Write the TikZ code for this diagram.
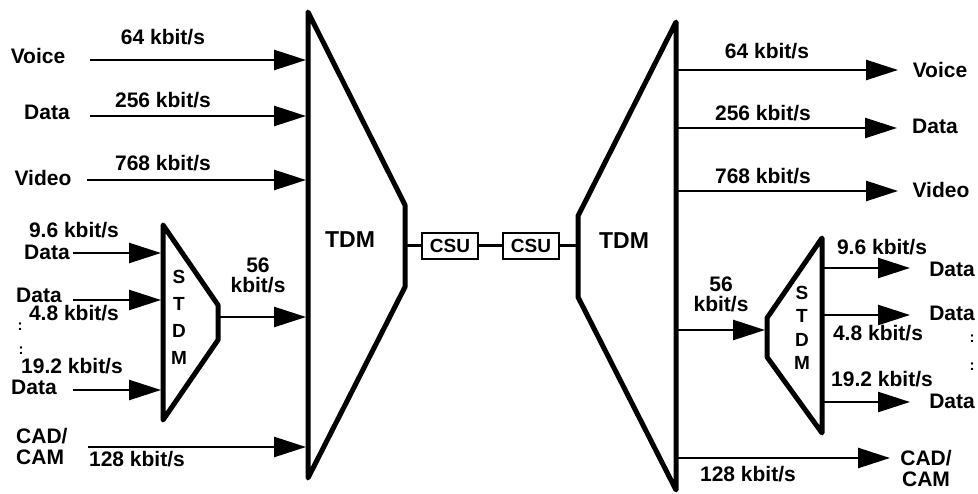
\documentclass[tikz,border=0pt]{standalone}
\usepackage{fontspec}
\setmainfont{Liberation Sans}
\usetikzlibrary{arrows.meta, positioning}

\begin{document}
\begin{tikzpicture}[x=1pt, y=-1pt,
    lbl/.style={font=\fontsize{21}{23}\selectfont\bfseries, inner sep=0pt},
    big/.style={font=\fontsize{23}{25}\selectfont\bfseries, inner sep=0pt},
    dots/.style={font=\fontsize{15}{16}\selectfont\bfseries, inner sep=0pt},
    mux/.style={line width=5pt, line join=round},
    flow/.style={-{Triangle[length=32pt, width=20pt]}, line width=2.6pt},
    link/.style={line width=3pt},
    csu/.style={draw, line width=2pt, minimum width=56pt, minimum height=26pt,
                inner sep=1pt, font=\fontsize{19}{20}\selectfont\bfseries}]
  \useasboundingbox (0,0) rectangle (978,494);

  % multiplexers
  \draw[mux] (308,12) -- (405,205) -- (405,287) -- (308,478) -- cycle;
  \draw[mux] (676,22) -- (578,216) -- (578,297) -- (676,490) -- cycle;
  \draw[mux] (163,225) -- (218,305) -- (218,340) -- (163,420) -- cycle;
  \draw[mux] (822,238) -- (767,318) -- (767,357) -- (822,433) -- cycle;
  \node[big] (tdmA) at (350,240) {TDM};
  \node[big] (tdmB) at (624,241) {TDM};
  \node[lbl, align=center, font=\fontsize{19}{27}\selectfont\bfseries]
       (stdmA) at (179,317) {S\\T\\D\\M};
  \node[lbl, align=center, font=\fontsize{19}{23.5}\selectfont\bfseries]
       (stdmB) at (802,328) {S\\T\\D\\M};

  % link between the two TDMs
  \coordinate (portA) at (405,246);
  \coordinate (portB) at (578,246);
  \node[csu] (csuA) at (450,246) {CSU};
  \node[csu] (csuB) at (531,246) {CSU};
  \draw[link] (portA) -- (csuA) -- (csuB) -- (portB);

  % sending side
  \node[lbl] (voiceA) at (38,56) {Voice};
  \node[lbl] (voiceArate) at (163,37) {64 kbit/s};
  \node[lbl] (dataA) at (47,112) {Data};
  \node[lbl] (dataArate) at (163,100) {256 kbit/s};
  \node[lbl] (videoA) at (43,178) {Video};
  \node[lbl] (videoArate) at (163,163) {768 kbit/s};
  \coordinate (voiceAin) at (90,60);   \coordinate (voiceAout) at (306,60);
  \coordinate (dataAin) at (90,116);   \coordinate (dataAout) at (306,116);
  \coordinate (videoAin) at (87,180);  \coordinate (videoAout) at (306,180);
  \draw[flow] (voiceAin) -- (voiceAout);
  \draw[flow] (dataAin) -- (dataAout);
  \draw[flow] (videoAin) -- (videoAout);

  \node[lbl] (lowArate) at (74,230) {9.6 kbit/s};
  \node[lbl] (lowA) at (47,252) {Data};
  \node[lbl] (midA) at (39,295) {Data};
  \node[lbl] (midArate) at (74,313) {4.8 kbit/s};
  \node[dots] (dotsA1) at (20,327) {:};
  \node[dots] (dotsA2) at (21,351) {:};
  \node[lbl] (highArate) at (72,366) {19.2 kbit/s};
  \node[lbl] (highA) at (34,387) {Data};
  \coordinate (lowAin) at (73,253);    \coordinate (lowAout) at (161,253);
  \coordinate (midAin) at (73,300);    \coordinate (midAout) at (161,300);
  \coordinate (highAin) at (73,390);   \coordinate (highAout) at (161,390);
  \draw[flow] (lowAin) -- (lowAout);
  \draw[flow] (midAin) -- (midAout);
  \draw[flow] (highAin) -- (highAout);

  \node[lbl, align=center] (trunkArate) at (258,275) {56\\[-3pt]kbit/s};
  \coordinate (trunkAin) at (218,317); \coordinate (trunkAout) at (306,317);
  \draw[flow] (trunkAin) -- (trunkAout);

  \node[lbl, align=left, anchor=west] (cadA) at (16,446) {CAD/\\[-2pt]CAM};
  \node[lbl] (cadArate) at (137,459) {128 kbit/s};
  \coordinate (cadAin) at (88,447);    \coordinate (cadAout) at (306,447);
  \draw[flow] (cadAin) -- (cadAout);

  % receiving side
  \node[lbl] (voiceB) at (940,70) {Voice};
  \node[lbl] (voiceBrate) at (767,51) {64 kbit/s};
  \node[lbl] (dataB) at (935,126) {Data};
  \node[lbl] (dataBrate) at (763,113) {256 kbit/s};
  \node[lbl] (videoB) at (941,190) {Video};
  \node[lbl] (videoBrate) at (763,176) {768 kbit/s};
  \coordinate (voiceBin) at (676,70);  \coordinate (voiceBout) at (898,70);
  \coordinate (dataBin) at (676,128);  \coordinate (dataBout) at (897,128);
  \coordinate (videoBin) at (676,191); \coordinate (videoBout) at (898,191);
  \draw[flow] (voiceBin) -- (voiceBout);
  \draw[flow] (dataBin) -- (dataBout);
  \draw[flow] (videoBin) -- (videoBout);

  \node[lbl, align=center] (trunkBrate) at (721,294) {56\\[-3pt]kbit/s};
  \coordinate (trunkBin) at (676,330); \coordinate (trunkBout) at (765,330);
  \draw[flow] (trunkBin) -- (trunkBout);

  \node[lbl] (lowBrate) at (882,247) {9.6 kbit/s};
  \node[lbl] (lowB) at (952,269) {Data};
  \node[lbl] (midB) at (952,313) {Data};
  \node[lbl] (midBrate) at (878,333) {4.8 kbit/s};
  \node[dots] (dotsB1) at (972,339) {:};
  \node[dots] (dotsB2) at (972,367) {:};
  \node[lbl] (highBrate) at (882,379) {19.2 kbit/s};
  \node[lbl] (highB) at (952,401) {Data};
  \coordinate (lowBin) at (822,268);   \coordinate (lowBout) at (910,268);
  \coordinate (midBin) at (822,315);   \coordinate (midBout) at (910,315);
  \coordinate (highBin) at (822,402);  \coordinate (highBout) at (910,402);
  \draw[flow] (lowBin) -- (lowBout);
  \draw[flow] (midBin) -- (midBout);
  \draw[flow] (highBin) -- (highBout);

  \node[lbl, align=center] (cadB) at (926,468) {CAD/\\[-2pt]CAM};
  \node[lbl] (cadBrate) at (748,474) {128 kbit/s};
  \coordinate (cadBin) at (676,458);   \coordinate (cadBout) at (890,458);
  \draw[flow] (cadBin) -- (cadBout);
\end{tikzpicture}
\end{document}
